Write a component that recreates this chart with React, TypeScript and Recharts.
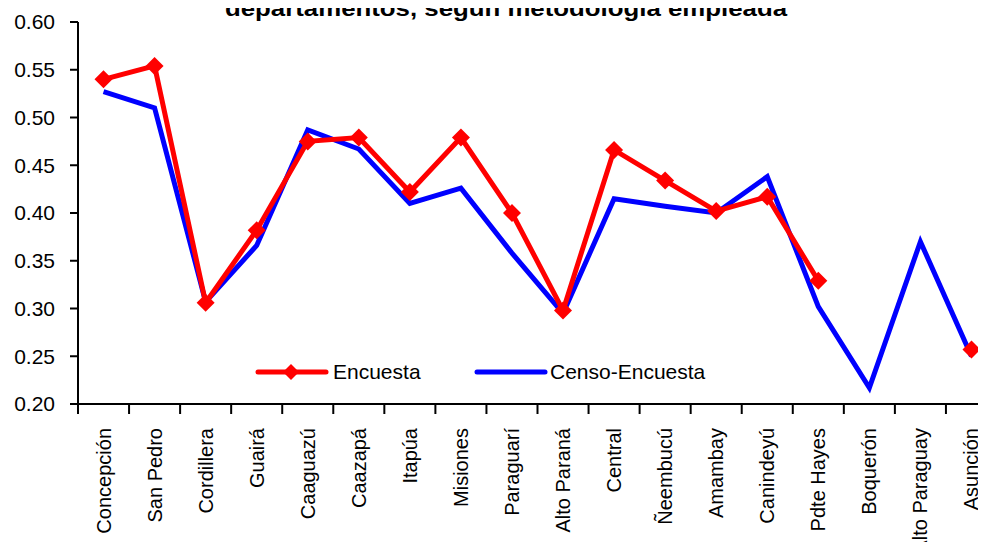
import React from 'react';
import { LineChart, Line, XAxis, YAxis, Legend } from 'recharts';

const departamentos = [
  'Concepción', 'San Pedro', 'Cordillera', 'Guairá', 'Caaguazú', 'Caazapá', 'Itapúa', 'Misiones',
  'Paraguarí', 'Alto Paraná', 'Central', 'Ñeembucú', 'Amambay', 'Canindeyú', 'Pdte Hayes',
  'Boquerón', 'Alto Paraguay', 'Asunción',
];
const encuesta: (number | null)[] = [
  0.540, 0.554, 0.306, 0.382, 0.475, 0.479, 0.422, 0.479, 0.400, 0.298, 0.466, 0.434, 0.402, 0.417, 0.329,
  null, null, 0.257,
];
const censoEncuesta: number[] = [
  0.527, 0.510, 0.307, 0.366, 0.487, 0.467, 0.410, 0.426, 0.358, 0.295, 0.415, 0.407, 0.400, 0.438, 0.302,
  0.217, 0.370, 0.250,
];
const yTicks = [0.2, 0.25, 0.3, 0.35, 0.4, 0.45, 0.5, 0.55, 0.6];
const titleText = 'departamentos, según metodología empleada';
const legendLabels = ['Encuesta', 'Censo-Encuesta'];

const data = departamentos.map((d, i) => ({ name: d, encuesta: encuesta[i], censo: censoEncuesta[i] }));

const FONT = '"Liberation Sans", Arial, sans-serif';
const CHART_W = 1000;
const CHART_H = 550;
const LEFT = 78;
const RIGHT = 3;
const BW = (CHART_W - LEFT - RIGHT) / departamentos.length;

const YTick = (props: any) => {
  const { x, y, payload } = props;
  return (
    <text x={x} y={y} textAnchor="end" dy="0.35em" fontSize={21} fontFamily={FONT} fill="#000">
      {Number(payload.value).toFixed(2)}
    </text>
  );
};

const XTick = (props: any) => {
  const { x, y, payload } = props;
  return (
    <g>
      <line x1={x - BW / 2} x2={x - BW / 2} y1={y} y2={y + 10} stroke="#000" strokeWidth={2} />
      <text transform={`translate(${x},${y + 24}) rotate(-90)`} textAnchor="end" dy="0.35em" fontSize={20} fontFamily={FONT} fill="#000">
        {payload.value}
      </text>
    </g>
  );
};

const Diamond = (props: any) => {
  const { cx, cy } = props;
  if (cx == null || cy == null || props.value == null) return null;
  const r = 9;
  return <polygon points={`${cx},${cy - r} ${cx + r},${cy} ${cx},${cy + r} ${cx - r},${cy}`} fill="#ff0000" stroke="none" />;
};

const LegendContent = () => (
  <svg width={500} height={30}>
    <line x1={10} x2={78} y1={12} y2={12} stroke="#ff0000" strokeWidth={5} strokeLinecap="round" />
    <polygon points={`43,4 51,12 43,20 35,12`} fill="#ff0000" />
    <text x={85} y={12} dy="0.35em" fontSize={21} fontFamily={FONT} fill="#000">{legendLabels[0]}</text>
    <line x1={229} x2={297} y1={12} y2={12} stroke="#0000ff" strokeWidth={5} strokeLinecap="round" />
    <text x={302} y={12} dy="0.35em" fontSize={21} fontFamily={FONT} fill="#000">{legendLabels[1]}</text>
  </svg>
);

export default function App() {
  return (
    <div style={{ margin: -8, position: 'relative', width: CHART_W, height: CHART_H, background: '#fff' }}>
      <svg style={{ position: 'absolute', left: 0, top: 0 }} width={CHART_W} height={40}>
        <text x={506} y={16} textAnchor="middle" fontSize={22} fontWeight="bold" fontFamily={FONT} textLength={562} lengthAdjust="spacingAndGlyphs" fill="#000">
          {titleText}
        </text>
      </svg>
      <LineChart width={CHART_W} height={CHART_H} data={data} margin={{ top: 22, right: RIGHT, bottom: 0, left: 0 }}>
        <XAxis
          dataKey="name"
          height={146}
          interval={0}
          padding={{ left: BW / 2, right: BW / 2 }}
          tick={<XTick />}
          tickLine={false}
          tickSize={0}
          tickMargin={0}
          axisLine={{ stroke: '#000', strokeWidth: 2 }}
        />
        <YAxis
          domain={[0.2, 0.6]}
          ticks={yTicks}
          width={LEFT}
          tick={<YTick />}
          tickSize={8}
          tickMargin={15}
          tickLine={{ stroke: '#000', strokeWidth: 2 }}
          axisLine={{ stroke: '#000', strokeWidth: 2 }}
          interval={0}
        />
        <Legend
          verticalAlign="middle"
          align="center"
          content={<LegendContent />}
          wrapperStyle={{ position: 'absolute', left: 248, top: 360, width: 500, height: 30 }}
        />
        <Line
          dataKey="censo"
          stroke="#0000ff"
          strokeWidth={5}
          dot={false}
          activeDot={false}
          isAnimationActive={false}
        />
        <Line
          dataKey="encuesta"
          stroke="#ff0000"
          strokeWidth={5}
          dot={<Diamond />}
          activeDot={false}
          connectNulls={false}
          isAnimationActive={false}
        />
      </LineChart>
    </div>
  );
}
